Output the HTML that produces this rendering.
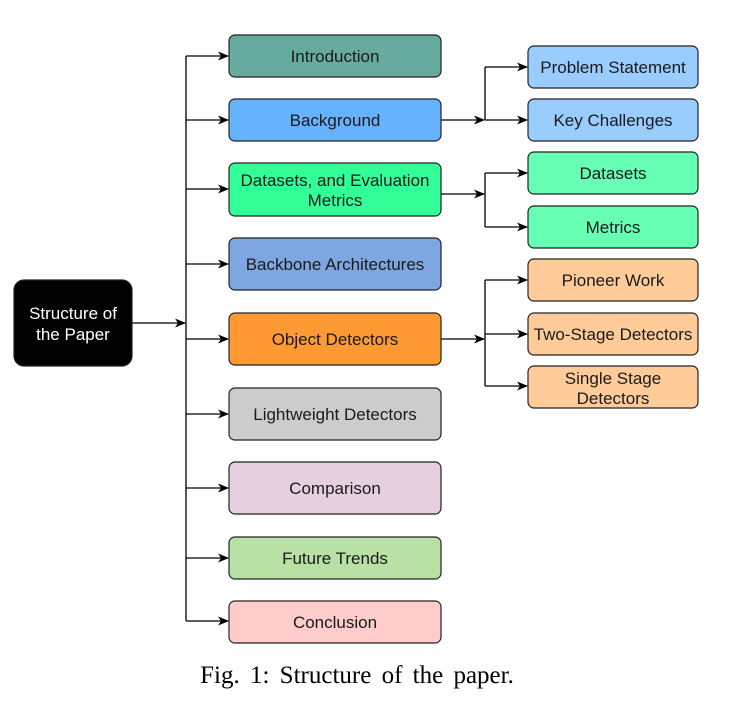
<!DOCTYPE html>
<html><head><style>
body{margin:0;background:#fff;width:754px;height:704px;overflow:hidden}
svg text{font-family:"Liberation Sans",sans-serif;font-size:17px;fill:#1a1a1a}
</style></head><body>
<svg width="754" height="704" viewBox="0 0 754 704" xmlns="http://www.w3.org/2000/svg">
<defs><marker id="a" markerWidth="11" markerHeight="9" refX="10" refY="4.5" orient="auto" markerUnits="userSpaceOnUse"><path d="M0,0 L11,4.5 L0,9 L3,4.5 z" fill="#000"/></marker></defs>
<g stroke="#000" stroke-width="1.3" fill="none">
<path d="M132,323 H185" marker-end="url(#a)"/>
<path d="M186,56 V621"/>
<path d="M186,56 H228" marker-end="url(#a)"/>
<path d="M186,120 H228" marker-end="url(#a)"/>
<path d="M186,189 H228" marker-end="url(#a)"/>
<path d="M186,264 H228" marker-end="url(#a)"/>
<path d="M186,339 H228" marker-end="url(#a)"/>
<path d="M186,414 H228" marker-end="url(#a)"/>
<path d="M186,488 H228" marker-end="url(#a)"/>
<path d="M186,558 H228" marker-end="url(#a)"/>
<path d="M186,621 H228" marker-end="url(#a)"/>
<path d="M441,120 H484" marker-end="url(#a)"/>
<path d="M485,67 V120"/><path d="M485,67 H527" marker-end="url(#a)"/><path d="M485,120 H527" marker-end="url(#a)"/>
<path d="M441,194 H484" marker-end="url(#a)"/>
<path d="M485,173 V227"/><path d="M485,173 H527" marker-end="url(#a)"/><path d="M485,227 H527" marker-end="url(#a)"/>
<path d="M441,339 H484" marker-end="url(#a)"/>
<path d="M485,280 V386"/><path d="M485,280 H527" marker-end="url(#a)"/><path d="M485,334 H527" marker-end="url(#a)"/><path d="M485,386 H527" marker-end="url(#a)"/>
</g>
<g stroke="#222" stroke-width="1.2">
<rect x="14" y="280" width="118" height="86" rx="10" fill="#000"/>
<rect x="229" y="35" width="212" height="42" rx="6" fill="#67AB9F"/>
<rect x="229" y="99" width="212" height="42" rx="6" fill="#66B2FF"/>
<rect x="229" y="163" width="212" height="53" rx="6" fill="#33FF99"/>
<rect x="229" y="238" width="212" height="52" rx="6" fill="#7EA6E0"/>
<rect x="229" y="313" width="212" height="52" rx="6" fill="#FF9933"/>
<rect x="229" y="388" width="212" height="52" rx="6" fill="#CCCCCC"/>
<rect x="229" y="462" width="212" height="52" rx="6" fill="#E6D0DE"/>
<rect x="229" y="537" width="212" height="42" rx="6" fill="#B9E0A5"/>
<rect x="229" y="601" width="212" height="42" rx="6" fill="#FFCCCC"/>
<rect x="528" y="46" width="170" height="42" rx="6" fill="#99CCFF"/>
<rect x="528" y="99" width="170" height="42" rx="6" fill="#99CCFF"/>
<rect x="528" y="152" width="170" height="42" rx="6" fill="#66FFB3"/>
<rect x="528" y="206" width="170" height="42" rx="6" fill="#66FFB3"/>
<rect x="528" y="259" width="170" height="42" rx="6" fill="#FFCC99"/>
<rect x="528" y="313" width="170" height="42" rx="6" fill="#FFCC99"/>
<rect x="528" y="366" width="170" height="42" rx="6" fill="#FFCC99"/>
</g>
<g text-anchor="middle">
<text x="73" y="319" style="fill:#fff">Structure of</text>
<text x="73" y="340" style="fill:#fff">the Paper</text>
<text x="335" y="62">Introduction</text>
<text x="335" y="126">Background</text>
<text x="335" y="186">Datasets, and Evaluation</text>
<text x="335" y="206">Metrics</text>
<text x="335" y="270">Backbone Architectures</text>
<text x="335" y="345">Object Detectors</text>
<text x="335" y="420">Lightweight Detectors</text>
<text x="335" y="494">Comparison</text>
<text x="335" y="564">Future Trends</text>
<text x="335" y="628">Conclusion</text>
<text x="613" y="73">Problem Statement</text>
<text x="613" y="126">Key Challenges</text>
<text x="613" y="179">Datasets</text>
<text x="613" y="233">Metrics</text>
<text x="613" y="286">Pioneer Work</text>
<text x="613" y="340">Two-Stage Detectors</text>
<text x="613" y="384">Single Stage</text>
<text x="613" y="404">Detectors</text>
<text x="357" y="683" style="font-family:'Liberation Serif',serif;font-size:25px;word-spacing:4px;fill:#000">Fig. 1: Structure of the paper.</text>
</g>
</svg>
</body></html>
